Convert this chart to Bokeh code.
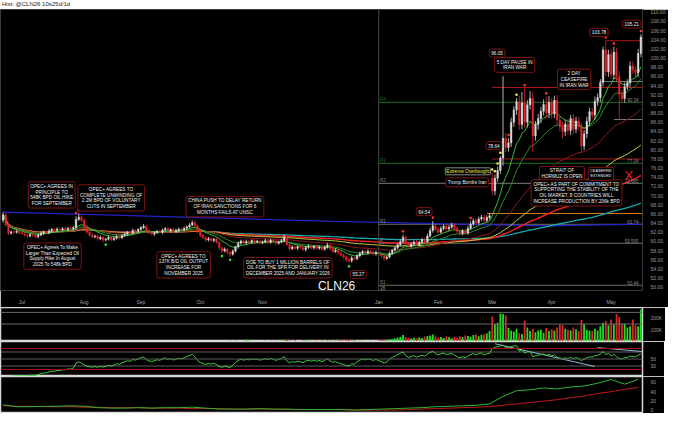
import numpy as np
import pandas as pd
from bokeh.plotting import figure
from bokeh.layouts import column
from bokeh.models import Range1d, FixedTicker, PrintfTickFormatter, Label, Span, ColumnDataSource, Div
from bokeh.embed import file_html
from bokeh.resources import INLINE

FONT = "Liberation Sans"

# ---------------- data ----------------
start_date, end_date = "2025-06-20", "2026-05-18"
title_text = "Hist: @CLN26 10s25d/1d"
symbol = "CLN26"

close_jun = [65.8, 63.6, 61.8, 62.1, 62.0, 62.2, 61.9]
close_jul = [61.7, 61.4, 61.2, 61.5, 61.3, 61.0, 61.4, 61.8, 62.1, 61.9, 62.3, 62.6, 62.4, 62.7, 62.5,
             62.8, 62.6, 62.9, 62.7, 63.0, 64.8, 65.3, 64.6]
close_aug = [63.2, 62.0, 61.4, 61.0, 61.2, 60.6, 60.9, 60.3, 60.5, 60.9, 60.4, 60.7, 61.1, 60.8, 61.3,
             61.6, 62.0, 61.8, 62.4, 62.2, 62.6]
close_sep = [63.0, 63.3, 62.4, 61.9, 61.6, 61.9, 62.2, 62.0, 62.5, 62.8, 62.3, 62.6, 62.1, 62.4, 62.7,
             62.5, 62.9, 63.2, 63.6, 64.1, 63.4, 62.2]
close_oct = [61.3, 60.8, 60.3, 60.6, 60.2, 60.5, 59.8, 58.6, 57.9, 58.3, 57.6, 57.2, 57.9, 58.8, 59.6,
             60.1, 59.7, 60.0, 59.8, 60.2, 59.9, 60.1, 59.7]
close_nov = [59.9, 60.2, 59.8, 60.3, 60.0, 59.6, 59.9, 60.2, 60.9, 59.3, 58.4, 58.8, 58.5, 58.9, 58.6,
             58.2, 58.7, 59.0, 58.6, 58.9]
close_dec = [58.5, 58.8, 58.3, 58.7, 59.2, 58.4, 57.8, 58.1, 57.5, 57.0, 56.6, 56.0, 55.8, 56.4, 56.2,
             56.9, 57.4, 57.8, 57.5, 57.9, 57.6, 57.3, 57.6]
close_jan = [57.2, 56.8, 56.3, 56.6, 57.4, 58.1, 58.6, 59.3, 60.0, 60.9, 59.6, 58.9, 59.4, 59.9, 59.3,
             59.8, 60.4, 60.0, 61.2, 62.4, 63.4, 62.6]
close_feb = [62.0, 62.8, 63.3, 62.7, 63.1, 63.6, 62.9, 62.2, 61.7, 62.3, 61.8, 62.9, 63.8, 64.5, 64.1,
             64.9, 65.3, 64.6, 65.2, 65.6]
close_mar = [71.0, 73.8, 75.5, 78.2, 82.5, 80.5, 81.5, 86.0, 88.7, 90.5, 85.5, 90.2, 86.0, 89.8, 91.2,
             83.0, 85.5, 86.8, 88.4, 89.9, 88.0, 90.4]
close_apr = [87.8, 90.8, 86.5, 85.0, 84.0, 85.6, 84.2, 86.8, 84.5, 86.3, 85.1, 80.8, 83.5, 86.2, 88.3,
             87.6, 90.6, 91.4, 94.7, 101.8, 97.0, 100.8]
close_may = [96.4, 101.3, 96.0, 92.0, 91.2, 93.8, 94.6, 98.3, 97.4, 96.8, 101.0, 104.6]

first_open = 64.6
open_gaps = {"2026-03-02": 73.8}

wick_up = ([0.6, 0.5, 0.4, 0.3, 0.3, 0.4, 0.3] +
           [0.3, 0.4, 0.3, 0.3, 0.4, 0.3, 0.3, 0.4, 0.3, 0.3, 0.4, 0.3, 0.3, 0.4, 0.3, 0.3, 0.4, 0.3, 0.3, 0.4, 0.7, 0.8, 0.5] +
           [0.4, 0.3, 0.3, 0.4, 0.3, 0.3, 0.4, 0.3, 0.3, 0.4, 0.3, 0.3, 0.4, 0.3, 0.3, 0.4, 0.3, 0.3, 0.4, 0.3, 0.3] +
           [0.4, 0.5, 0.3, 0.3, 0.4, 0.3, 0.3, 0.4, 0.3, 0.3, 0.4, 0.3, 0.3, 0.4, 0.3, 0.3, 0.4, 0.3, 0.4, 0.5, 0.4, 0.3] +
           [0.4, 0.3, 0.3, 0.4, 0.3, 0.3, 0.4, 0.3, 0.3, 0.4, 0.3, 0.3, 0.4, 0.3, 0.4, 0.3, 0.3, 0.4, 0.3, 0.3, 0.4, 0.3, 0.3] +
           [0.3, 0.4, 0.3, 0.3, 0.4, 0.3, 0.3, 0.4, 0.6, 0.3, 0.3, 0.4, 0.3, 0.3, 0.4, 0.3, 0.3, 0.4, 0.3, 0.3] +
           [0.4, 0.3, 0.3, 0.4, 0.5, 0.3, 0.3, 0.4, 0.3, 0.3, 0.4, 0.3, 0.3, 0.4, 0.3, 0.3, 0.4, 0.3, 0.3, 0.4, 0.3, 0.3, 0.4] +
           [0.3, 0.4, 0.3, 0.3, 0.4, 0.3, 0.4, 0.3, 0.4, 0.6, 0.4, 0.3, 0.4, 0.3, 0.4, 0.3, 0.4, 0.4, 0.5, 0.6, 1.1, 0.5] +
           [0.4, 0.5, 0.4, 0.4, 0.5, 0.5, 0.4, 0.4, 0.3, 0.4, 0.5, 0.5, 0.6, 0.5, 0.6, 0.5, 0.5, 0.6, 0.5, 0.6] +
           [1.2, 0.8, 0.8, 0.44, 13.55, 1.2, 1.0, 1.0, 0.8, 0.8, 1.3, 2.4, 3.2, 1.0, 1.6, 1.5, 0.8, 1.0, 0.9, 1.1, 1.7, 1.3] +
           [0.9, 1.0, 1.2, 0.8, 1.0, 0.9, 1.1, 0.8, 1.0, 0.9, 0.8, 0.9, 0.8, 1.0, 0.9, 0.8, 1.0, 0.9, 0.7, 0.7, 1.98, 1.0] +
           [1.2, 1.2, 1.0, 1.3, 1.0, 0.9, 0.8, 1.0, 0.9, 0.8, 1.0, 0.61])

wick_dn = ([0.5, 0.4, 0.4, 0.3, 0.3, 0.3, 0.4] +
           [0.3, 0.3, 0.4, 0.3, 0.3, 0.4, 0.3, 0.3, 0.4, 0.3, 0.3, 0.4, 0.3, 0.3, 0.4, 0.3, 0.3, 0.4, 0.3, 0.3, 0.4, 0.3, 0.4] +
           [0.4, 0.3, 0.4, 0.3, 0.3, 0.4, 0.3, 0.5, 0.3, 0.3, 0.4, 0.3, 0.3, 0.4, 0.3, 0.3, 0.4, 0.3, 0.3, 0.4, 0.3] +
           [0.3, 0.3, 0.4, 0.3, 0.3, 0.4, 0.3, 0.3, 0.4, 0.3, 0.3, 0.4, 0.3, 0.3, 0.4, 0.3, 0.3, 0.4, 0.3, 0.3, 0.4, 0.4] +
           [0.4, 0.3, 0.4, 0.3, 0.3, 0.4, 0.3, 0.5, 0.4, 0.3, 0.5, 0.5, 0.3, 0.3, 0.4, 0.3, 0.3, 0.4, 0.3, 0.3, 0.4, 0.3, 0.3] +
           [0.3, 0.3, 0.4, 0.3, 0.3, 0.4, 0.3, 0.3, 0.4, 0.3, 0.4, 0.3, 0.3, 0.4, 0.3, 0.3, 0.4, 0.3, 0.3, 0.4] +
           [0.3, 0.3, 0.4, 0.3, 0.3, 0.4, 0.3, 0.3, 0.4, 0.3, 0.3, 0.4, 0.53, 0.4, 0.3, 0.3, 0.4, 0.3, 0.3, 0.4, 0.3, 0.3, 0.4] +
           [0.3, 0.4, 0.4, 0.3, 0.3, 0.4, 0.3, 0.3, 0.4, 0.3, 0.4, 0.3, 0.3, 0.4, 0.3, 0.4, 0.3, 0.4, 0.3, 0.4, 0.5, 0.4] +
           [0.4, 0.3, 0.4, 0.5, 0.4, 0.3, 0.4, 0.4, 0.5, 0.4, 0.4, 0.3, 0.4, 0.4, 0.5, 0.4, 0.4, 0.5, 0.4, 0.4] +
           [0.8, 0.9, 0.8, 0.8, 1.7, 1.0, 0.9, 0.9, 1.0, 1.1, 1.2, 1.0, 1.2, 1.1, 1.0, 3.5, 1.0, 1.1, 1.0, 0.9, 1.0, 1.1] +
           [1.0, 0.9, 1.1, 1.0, 1.5, 1.0, 0.9, 1.0, 1.1, 0.9, 1.0, 1.2, 0.9, 1.0, 1.0, 0.9, 1.1, 1.0, 1.0, 0.9, 1.0, 1.1] +
           [1.0, 1.0, 1.0, 5.4, 1.0, 0.9, 0.8, 1.0, 0.9, 1.0, 1.0, 0.8])

volume_k = ([4, 3, 5, 2, 2, 2, 2] +
            [1, 2, 1, 1, 2, 1, 1, 2, 1, 1, 2, 1, 1, 1, 2, 1, 2, 1, 1, 2, 3, 4, 3] +
            [3, 2, 2, 1, 2, 2, 3, 2, 1, 1, 2, 1, 2, 2, 1, 1, 2, 1, 2, 2, 1] +
            [2, 2, 1, 2, 1, 1, 2, 2, 1, 1, 2, 1, 2, 1, 1, 2, 2, 3, 2, 3, 4, 3] +
            [3, 2, 3, 2, 3, 2, 4, 3, 5, 4, 3, 6, 5, 8, 4, 3, 5, 18, 6, 4, 5, 4, 3] +
            [5, 6, 4, 8, 5, 7, 6, 9, 14, 12, 8, 6, 10, 7, 5, 9, 12, 8, 6, 7] +
            [8, 6, 9, 7, 12, 9, 7, 10, 8, 11, 9, 14, 12, 8, 10, 7, 6, 9, 5, 4, 6, 5, 7] +
            [9, 12, 10, 14, 18, 22, 28, 35, 40, 55, 38, 30, 25, 33, 28, 36, 30, 42, 48, 52, 60, 45] +
            [35, 38, 30, 42, 36, 28, 40, 33, 45, 38, 52, 48, 40, 55, 60, 45, 58, 62, 70, 90] +
            [214, 150, 160, 240, 236, 225, 117, 95, 85, 110, 70, 65, 180, 120, 90, 110, 80, 95, 100, 75, 115, 90] +
            [105, 95, 120, 145, 140, 110, 100, 95, 120, 105, 90, 186, 150, 100, 95, 90, 110, 95, 130, 160, 175, 140] +
            [190, 150, 236, 210, 150, 155, 120, 130, 190, 140, 130, 275])

red_dot_bars = [27, 28, 148, 159, 173, 187, 193, 201, 223, 226, 236]
yellow_dot_bars = [181, 182, 183, 184, 190]
green_dot_bars = [38, 81, 84, 128]

pivot_names = ["S1", "P", "R1", "R2", "R3", "R4"]
pivot_values = [50.44, 59.595, 63.74, 72.685, 77.04, 90.34]
pivot_colors = ["#6a6a6a", "#6a6a6a", "#6a6a6a", "#7a7a7a", "#1f6a1f", "#1f6a1f"]

level_values = [93.6, 103.78, 78.0, 66.1, 94.9, 86.6]
level_start_bars = [181, 223, 181, 179, 221, 226]
level_colors = ["#b01818", "#b01818", "#a01818", "#d07a1a", "#777777", "#777777"]

blue_bars = [0, 122, 200, 236]
blue_values = [66.4, 64.4, 63.4, 63.8]

rsi_trend_x0 = [182, 220]
rsi_trend_y0 = [93.6, 82.5]
rsi_trend_x1 = [219, 236.5]
rsi_trend_y1 = [28.6, 71.4]

ind_bars = list(range(0, 236, 5))
ind_green = [12, 8, 8, 9, 9, 10, 9, 6, 5, 5, 6, 5, 6, 6, 7, 5, 3, 3, 3, 4, 3, 3, 2, 2, 2,
             2, 1, 2, 3, 4, 5, 6, 8, 9, 10, 11, 14, 30, 42, 44, 48, 46, 50, 52, 58, 66, 56, 66]
ind_red = [10, 9, 9, 8, 8, 8, 7, 7, 6, 6, 6, 5, 5, 5, 4, 4, 4, 3, 3, 3, 3, 2, 2, 2, 2, 2, 1, 1,
           1, 1, 2, 3, 4, 5, 6, 7,
           8, 11, 14, 17, 20, 23, 27, 31, 36, 40, 45, 49]

notes = [
    (18.0, 70.15, "OPEC+ AGREES IN\nPRINCIPLE TO\n548K BPD OIL HIKE\nFOR SEPTEMBER"),
    (40.0, 69.5, "OPEC+ AGREES TO\nCOMPLETE UNWINDING OF\n2.2M BPD OF VOLUNTARY\nCUTS IN SEPTEMBER"),
    (82.1, 67.6, "CHINA PUSH TO DELAY RETURN\nOF IRAN SANCTIONS FOR 6\nMONTHS FAILS AT UNSC"),
    (18.3, 56.8, "OPEC+ Agrees To Make\nLarger Than Expected Oil\nSupply Hike In August\n2025 To 548k BPD"),
    (66.8, 54.9, "OPEC+ AGREES TO\n137K B/D OIL OUTPUT\nINCREASE FOR\nNOVEMBER 2025"),
    (105.4, 54.25, "DOE TO BUY 1 MILLION BARRELS OF\nOIL FOR THE SPR FOR DELIVERY IN\nDECEMBER 2025 AND JANUARY 2026"),
    (131.5, 52.8, "55.27"),
    (155.8, 66.5, "64.54"),
    (171.7, 72.9, "Trump Bombs Iran"),
    (181.6, 80.9, "78.64"),
    (182.8, 101.1, "96.05"),
    (189.3, 98.5, "5 DAY PAUSE IN\nIRAN WAR"),
    (211.3, 95.35, "2 DAY\nCEASEFIRE\nIN IRAN WAR"),
    (220.5, 105.6, "103.78"),
    (232.6, 107.4, "105.21"),
    (206.8, 74.75, "STRAIT OF\nHORMUZ IS OPEN"),
    (212.2, 70.6, "OPEC+ AS PART OF COMMITMENT TO\nSUPPORTING THE STABILITY OF THE\nOIL MARKET, 8 COUNTRIES WILL\nINCREASE PRODUCTION BY 206k BPD"),
]

# ---------------- derived ----------------
dates = pd.bdate_range(start_date, end_date)
closes = (close_jun + close_jul + close_aug + close_sep + close_oct + close_nov + close_dec +
          close_jan + close_feb + close_mar + close_apr + close_may)
N = len(dates)
assert len(closes) == N == len(wick_up) == len(wick_dn) == len(volume_k), (N, len(closes), len(wick_up), len(wick_dn), len(volume_k))
x = np.arange(N)
c = np.array(closes, dtype=float)
o = np.array([first_open] + closes[:-1], dtype=float)
for d, v in open_gaps.items():
    o[dates.get_loc(pd.Timestamp(d))] = v
top = np.maximum(o, c)
bot = np.minimum(o, c)
h = top + np.array(wick_up)
l = bot - np.array(wick_dn)
up = c >= o
UPC, DNC = "#dadada", "#e3262b"
cols = np.where(up, UPC, DNC)

s = pd.Series(c)
ema10 = s.ewm(span=10).mean()
ema20 = s.ewm(span=20).mean()
ema50 = s.ewm(span=50).mean()
ema100 = s.ewm(span=100).mean()
ema200 = s.ewm(span=200).mean()
sma200 = s.rolling(200, min_periods=1).mean()
dlt = s.diff()
ag = dlt.clip(lower=0).ewm(alpha=1 / 14, adjust=False).mean()
al = (-dlt.clip(upper=0)).ewm(alpha=1 / 14, adjust=False).mean()
rsi = 100 - 100 / (1 + ag / al)

month_ticks = [i for i in range(1, N) if dates[i].month != dates[i - 1].month]
month_labels = {i: ("" if dates[i].month == 12 else dates[i].strftime("%b")) for i in month_ticks}
year_start = [i for i in month_ticks if dates[i].month == 1][0]

FW = 642
XR = Range1d(-0.95, 236.6)
XEND = 236.6


def base(fh, yr, **kw):
    f = figure(frame_width=FW, frame_height=fh, x_range=XR, y_range=yr, output_backend="svg",
               toolbar_location=None, y_axis_location="right", background_fill_color="black",
               border_fill_color="black", min_border_left=0, min_border_right=22,
               min_border_top=0, min_border_bottom=0, **kw)
    f.grid.visible = False
    ax = f.yaxis[0]
    ax.axis_line_color = None
    ax.major_tick_line_color = None
    ax.minor_tick_line_color = None
    ax.major_label_text_color = "#9a9a9a"
    ax.major_label_text_font_size = "5px"
    ax.major_label_text_font = FONT
    ax.major_label_standoff = 2
    return f


def tag(f, yv, txt, bg, fg="black"):
    f.add_layout(Label(x=XEND + 0.4, y=yv, text=txt, text_font=FONT, text_font_size="4.6px",
                       text_color=fg, background_fill_color=bg, text_align="left",
                       text_baseline="middle", padding=1))


# ---------------- title strip ----------------
tf = Div(text=title_text, width=664, height=9, margin=(0, 0, 0, 0),
         styles={"font-size": "6px", "line-height": "9px", "font-family": FONT,
                 "color": "#222222", "background-color": "white", "padding-left": "2px",
                 "white-space": "nowrap", "overflow": "visible"})

# ---------------- main price panel ----------------
p = base(281, Range1d(49.3, 110.6), outline_line_color="#3a3a3a")
p.yaxis.ticker = FixedTicker(ticks=list(range(50, 111, 2)))
p.yaxis.formatter = PrintfTickFormatter(format="%.2f")
p.xaxis.ticker = FixedTicker(ticks=month_ticks)
p.xaxis.major_label_overrides = month_labels
p.xaxis.axis_line_color = None
p.xaxis.major_tick_line_color = None
p.xaxis.minor_tick_line_color = None
p.xaxis.major_label_text_color = "#a0a0a0"
p.xaxis.major_label_text_font_size = "5px"
p.xaxis.major_label_text_font = FONT
p.xaxis.major_label_standoff = 2

p.add_layout(Span(location=year_start, dimension="height", line_color="#4a4a4a", line_width=1))

# pivot levels
for nm, v, colr in zip(pivot_names, pivot_values, pivot_colors):
    p.segment(x0=[year_start], y0=[v], x1=[XEND], y1=[v], line_color=colr, line_width=1)
    p.add_layout(Label(x=year_start + 0.5, y=v, text=nm, text_font=FONT, text_font_size="4.5px",
                       text_color=colr if colr != "#6a6a6a" else "#8a8a8a", text_baseline="bottom"))
    p.add_layout(Label(x=XEND - 1.5, y=v, text=f"{v:g}", text_font=FONT, text_font_size="4.5px",
                       text_color="#8a8a8a" if "6a" in colr or "7a" in colr else "#2f9a2f",
                       text_align="right", text_baseline="bottom"))

for v, sb, colr in zip(level_values, level_start_bars, level_colors):
    p.segment(x0=[sb], y0=[v], x1=[XEND], y1=[v], line_color=colr, line_width=1)

# moving averages / trend
p.line(blue_bars, blue_values, line_color="#2323c8", line_width=1.3)
p.line(x, sma200, line_color="#17a9b0", line_width=1.3)
p.line(x, ema200, line_color="#e82222", line_width=1.5)
p.line(x, ema100, line_color="#c9c93a", line_width=1)
p.line(x, ema50, line_color="#8e1a1a", line_width=1)
p.line(x, ema20, line_color="#2a8a2a", line_width=1)
p.line(x, ema10, line_color="#3ad13a", line_width=0.9)

# candles
src = ColumnDataSource(dict(x=x, top=top, bot=bot, h=h, l=l, col=cols))
p.segment(x0="x", y0="h", x1="x", y1="l", line_color="col", line_width=0.8, source=src)
p.vbar(x="x", top="top", bottom="bot", width=0.62, fill_color="col", line_color="col",
       line_width=0.4, source=src)

# signal dots
p.scatter([b for b in red_dot_bars], [h[b] + 0.7 for b in red_dot_bars], size=2.6,
          color="#ff3030", line_color=None)
p.scatter([b for b in yellow_dot_bars], [h[b] + 0.7 for b in yellow_dot_bars], size=2.6,
          color="#f2f25a", line_color=None)
p.scatter([b for b in green_dot_bars], [l[b] - 0.7 for b in green_dot_bars], size=2.6,
          color="#30e030", line_color=None)

# annotation boxes
for nx, ny, txt in notes:
    p.add_layout(Label(x=nx, y=ny, text=txt, text_font=FONT, text_font_size="4.7px",
                       text_color="#f0f0f0", text_align="center", text_baseline="middle",
                       text_line_height=1.15, background_fill_color="black",
                       border_line_color="#7d1414", border_line_width=1, padding=2,
                       border_radius=2))
p.add_layout(Label(x=172.0, y=75.3, text="Extreme Overbought", text_font=FONT, text_font_size="4.7px",
                   text_color="#f0f040", text_align="center", text_baseline="middle",
                   background_fill_color="black", border_line_color="#8a8a8a", border_line_width=1,
                   padding=1, border_radius=1))
p.add_layout(Label(x=221.2, y=74.75, text="CEASEFIRE\nEXTENDED", text_font=FONT, text_font_size="3.8px",
                   text_color="#f0f0f0", text_align="center", text_baseline="middle",
                   text_line_height=1.3, background_fill_color="black", border_line_color="#7d1414",
                   border_line_width=1, padding=2, border_radius=2))
p.add_layout(Label(x=231.5, y=74.4, text="X", text_font=FONT, text_font_size="13px",
                   text_color="#ff1a1a", text_align="center", text_baseline="middle"))
p.add_layout(Label(x=123.4, y=50.2, text=symbol, text_font=FONT, text_font_size="12px",
                   text_color="#f4f4f4", text_align="center", text_baseline="middle"))
p.add_layout(Label(x=year_start + 0.6, y=49.9, text="26", text_font=FONT, text_font_size="4.5px",
                   text_color="#9a9a9a", text_baseline="middle"))

# right-side tags
tag(p, c[-1], f"{c[-1]:.2f}", "#8c8c8c")
tag(p, ema10.iloc[-1], f"{ema10.iloc[-1]:.2f}", "#17a3a3")
tag(p, ema20.iloc[-1], f"{ema20.iloc[-1]:.2f}", "#21a821")
tag(p, ema50.iloc[-1], f"{ema50.iloc[-1]:.2f}", "#b01515", "#f0f0f0")
tag(p, ema100.iloc[-1], f"{ema100.iloc[-1]:.2f}", "#e8e800")
tag(p, ema200.iloc[-1], f"{ema200.iloc[-1]:.2f}", "#d81d1d", "#f0f0f0")
tag(p, sma200.iloc[-1], f"{sma200.iloc[-1]:.2f}", "#15a0a8", "#f0f0f0")
tag(p, blue_values[-1], f"{blue_values[-1]:.2f}", "#16169c", "#16169c")

# ---------------- volume panel ----------------
pv = base(34, Range1d(0, 292), x_axis_location=None, outline_line_color="#d8d8d8")
pv.outline_line_width = 1.5
pv.yaxis.ticker = FixedTicker(ticks=[100, 200])
pv.yaxis.major_label_overrides = {100: "100K", 200: "200K"}
for lv in (150, 250):
    pv.add_layout(Span(location=lv, dimension="width", line_color="#6a6a6a", line_width=1))
vcols = np.where(up, "#22dd22", "#e3262b")
pv.vbar(x=x, top=volume_k, width=0.66, fill_color=vcols, line_color=None)
tag(pv, volume_k[-1], f"{volume_k[-1] * 1000}", "#8c8c8c")

# ---------------- RSI panel ----------------
pr = base(35, Range1d(0, 100), x_axis_location=None, outline_line_color="#d8d8d8")
pr.outline_line_width = 1.5
pr.yaxis.ticker = FixedTicker(ticks=[30, 50])
for lv, lc, dash in ((80, "#a01212", "solid"), (20, "#a01212", "solid"), (70, "#bbbbbb", "1 1"),
                     (30, "#bbbbbb", "1 1"), (50, "#5a5a5a", "solid")):
    pr.add_layout(Span(location=lv, dimension="width", line_color=lc, line_width=1, line_dash=dash))
pr.segment(x0=rsi_trend_x0, y0=rsi_trend_y0, x1=rsi_trend_x1, y1=rsi_trend_y1,
           line_color="#8fb8d8", line_width=1)
pr.line(x, rsi, line_color="#3ccc3c", line_width=1)
tag(pr, rsi.iloc[-1], f"{rsi.iloc[-1]:.3f}", "#8c8c8c")

# ---------------- bottom indicator panel ----------------
pb = base(37, Range1d(-6.4, 72.3), x_axis_location=None, outline_line_color="#d8d8d8")
pb.outline_line_width = 1.5
pb.yaxis.ticker = FixedTicker(ticks=[0, 20, 40, 60])
pb.line(ind_bars, ind_red, line_color="#c01a1a", line_width=1)
pb.line(ind_bars, ind_green, line_color="#2fb52f", line_width=1)
tag(pb, ind_green[-1], f"{ind_green[-1]:.3f}", "#8c8c8c")

layout = column(tf, p, pv, pr, pb, spacing=0)
open("out.html", "w").write(file_html(layout, INLINE))
